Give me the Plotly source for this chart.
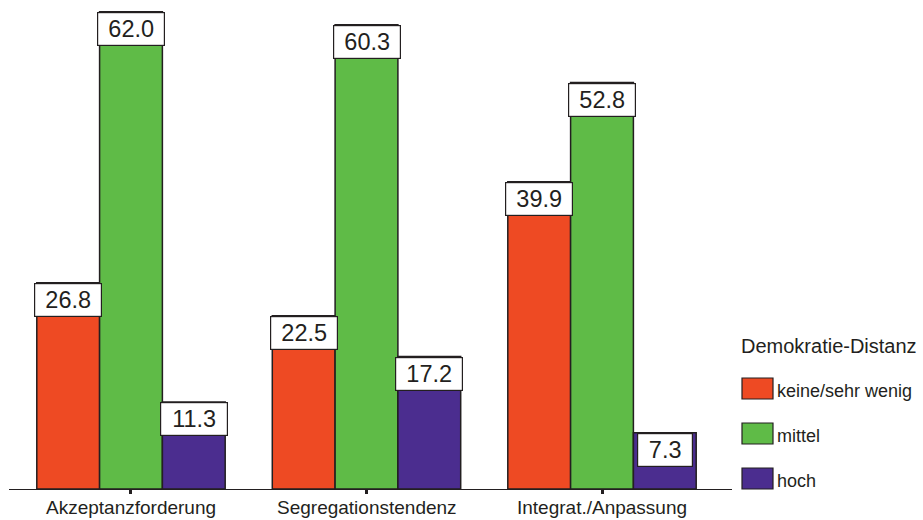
import plotly.graph_objects as go

categories = ["Akzeptanzforderung", "Segregationstendenz", "Integrat./Anpassung"]
series_names = ["keine/sehr wenig", "mittel", "hoch"]
keine_sehr_wenig = [26.8, 22.5, 39.9]
mittel = [62.0, 60.3, 52.8]
hoch = [11.3, 17.2, 7.3]
series_values = [keine_sehr_wenig, mittel, hoch]
colors = ["#EE4A23", "#5FBB47", "#4B2D8F"]
legend_title = "Demokratie-Distanz"

W, H = 923, 520
ML, MR, MT, MB = 9, 191, 4, 31
PW = W - ML - MR
PH = H - MT - MB
FONT = "Liberation Sans, Arial, sans-serif"
INK = "#231f20"

def px_x(px):
    return (px - ML) / PW

def px_y(py):
    return (H - MB - py) / PH

bargap = 0.2
n = len(series_names)
bw = (1 - bargap) / n
xs = list(range(len(categories)))

fig = go.Figure()
annotations = []
for i, (name, vals, col) in enumerate(zip(series_names, series_values, colors)):
    fig.add_trace(go.Bar(
        x=xs, y=vals, name=name,
        marker=dict(color=col, line=dict(color=INK, width=1.5)),
        showlegend=False, hoverinfo="x+y+name",
    ))
    off = (i - (n - 1) / 2) * bw
    for x, v in zip(xs, vals):
        txt = f"{v:.1f}"
        annotations.append(dict(
            x=x + off, y=v, xref="x", yref="y", text=txt,
            showarrow=False, yanchor="top", xanchor="center",
            font=dict(family=FONT, size=23.5, color=INK),
            bgcolor="white", bordercolor=INK, borderwidth=1.2,
            borderpad=0, width=12 * len(txt) + 18, height=32,
        ))

# category labels below the axis
for x, cat in zip(xs, categories):
    annotations.append(dict(
        x=x, y=px_y(507), xref="x", yref="paper", text=cat,
        showarrow=False, xanchor="center", yanchor="middle",
        font=dict(family=FONT, size=19, color=INK),
    ))

# custom legend
annotations.append(dict(
    x=px_x(739), y=px_y(346), xref="paper", yref="paper", text=legend_title,
    showarrow=False, xanchor="left", yanchor="middle",
    font=dict(family=FONT, size=20, color=INK),
))
shapes = []
rect_tops = [378, 423, 468]
for name, col, top in zip(series_names, colors, rect_tops):
    shapes.append(dict(
        type="rect", xref="paper", yref="paper",
        x0=px_x(742), x1=px_x(773), y0=px_y(top + 21), y1=px_y(top),
        fillcolor=col, line=dict(color=INK, width=1.2),
    ))
    annotations.append(dict(
        x=px_x(775), y=px_y(top + 13), xref="paper", yref="paper", text=name,
        showarrow=False, xanchor="left", yanchor="middle",
        font=dict(family=FONT, size=18, color=INK),
    ))

fig.update_layout(
    width=W, height=H,
    margin=dict(l=ML, r=MR, t=MT, b=MB, pad=0, autoexpand=False),
    barmode="group", bargap=bargap, bargroupgap=0,
    plot_bgcolor="white", paper_bgcolor="white",
    font=dict(family=FONT, color=INK),
    annotations=annotations, shapes=shapes,
    showlegend=False,
)
fig.update_xaxes(
    range=[-0.518, 2.552], tickvals=xs, ticktext=[""] * len(xs),
    showline=True, linecolor=INK, linewidth=1.2,
    ticks="outside", ticklen=4, tickwidth=2.5, tickcolor=INK,
    showgrid=False, zeroline=False, automargin=False,
)
fig.update_yaxes(range=[0, 63], visible=False, showgrid=False, zeroline=False,
                 automargin=False)

fig.write_html(
    "out.html",
    config={"displayModeBar": False},
    post_script="document.body.style.margin='0';document.body.style.padding='0';"
                "document.body.style.overflow='hidden';",
)
